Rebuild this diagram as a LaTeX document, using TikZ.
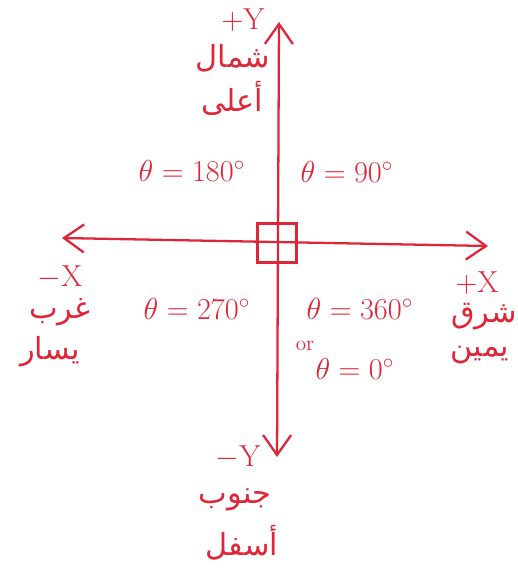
\documentclass[tikz,border=0pt]{standalone}
\usepackage{fontspec}
\usetikzlibrary{arrows.meta}
\newfontfamily\arabicfont[Script=Arabic]{DejaVu Sans}
\TeXXeTstate=1
\definecolor{inkred}{RGB}{222,38,56}
\tikzset{
	axis/.style={line width=1.3pt, inkred, {Straight Barb[length=4mm,width=5.6mm]}-{Straight Barb[length=4mm,width=5.6mm]}},
	lbl/.style={inkred, font=\LARGE},
	arlbl/.style={inkred, font=\LARGE\arabicfont},
}
\begin{document}
\begin{tikzpicture}[x=0.02cm, y=-0.02cm]
	\useasboundingbox (0,0) rectangle (517,574);
	\coordinate (O) at (277,243);
	\coordinate (xm) at (62,238);
	\coordinate (xp) at (488,246);
	\coordinate (yp) at (279,22);
	\coordinate (ym) at (277,457);

	\draw[axis] (xm) -- (xp);
	\draw[axis] (ym) -- (yp);
	\node[draw, inkred, line width=1.3pt, minimum size=0.78cm] (box) at (O) {};

	\node[lbl] (ypl) at (243,20){+Y};
	\node[arlbl] (north) at (233,58){\beginR شمال\endR};
	\node[arlbl] (up) at (232,98){\beginR أعلى\endR};

	\node[lbl] (xml) at (60,277){$-$X};
	\node[arlbl] (west) at (60,312){\beginR غرب\endR};
	\node[arlbl] (left) at (50,352){\beginR يسار\endR};

	\node[lbl] (xpl) at (477,283){+X};
	\node[arlbl] (east) at (484,317){\beginR شرق\endR};
	\node[arlbl] (right) at (480,355){\beginR يمين\endR};

	\node[lbl] (yml) at (238,457){$-$Y};
	\node[arlbl] (south) at (235,500){\beginR جنوب\endR};
	\node[arlbl] (down) at (242,543){\beginR أسفل\endR};

	\node[lbl] (t180) at (192,171){$\theta = 180^\circ$};
	\node[lbl] (t90) at (347,172){$\theta = 90^\circ$};
	\node[lbl] (t270) at (197,309){$\theta = 270^\circ$};
	\node[lbl] (t360) at (360,309){$\theta = 360^\circ$};
	\node[inkred, font=\large] (or) at (305,346){or};
	\node[lbl] (t0) at (355,369){$\theta = 0^\circ$};
\end{tikzpicture}
\end{document}
